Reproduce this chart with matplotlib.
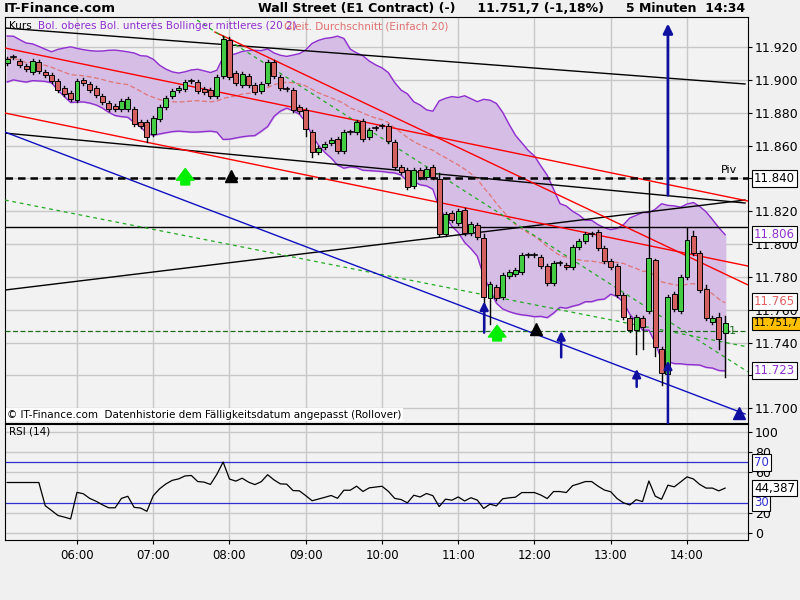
import numpy as np, pandas as pd
import matplotlib
matplotlib.use("Agg")
import matplotlib.pyplot as plt
from matplotlib.patches import Rectangle

# ---- candle data (open, close) in index points ----
opens = [11910.3,11913.9,11911.5,11908.4,11904.8,11910.9,11904.8,11903.0,11899.3,11895.0,11892.0,11887.7,11899.9,11897.5,11895.0,11890.2,11885.9,11884.1,11882.2,11882.2,
 11882.2,11874.3,11874.3,11867.0,11876.2,11883.5,11890.2,11893.8,11894.4,11899.3,11898.7,11894.4,11893.8,11890.2,11902.3,11924.3,11904.2,11896.9,11902.3,11896.9,
 11893.2,11898.1,11910.9,11901.7,11894.4,11893.8,11883.5,11881.6,11868.2,11856.1,11859.1,11861.5,11864.0,11856.7,11868.2,11868.2,11874.9,11865.2,11870.7,11871.9,
 11871.9,11862.1,11846.9,11845.1,11835.3,11845.1,11840.8,11846.9,11839.6,11806.1,11818.9,11812.8,11820.7,11806.7,11811.6,11803.7,11767.1,11773.8,11767.7,11780.5,
 11781.7,11783.0,11793.3,11793.3,11792.1,11786.6,11776.3,11788.5,11787.2,11786.0,11798.2,11801.9,11806.1,11807.3,11797.6,11789.7,11786.6,11768.9,11755.0,11747.7,
 11755.0,11759.2,11790.3,11736.1,11720.9,11769.6,11759.2,11779.9,11804.9,11794.5,11772.6,11752.5,11755.6,11745.6]
closes = [11912.7,11913.9,11909.0,11906.6,11911.5,11905.4,11903.0,11899.3,11893.8,11891.4,11888.3,11899.3,11898.1,11893.8,11890.8,11886.5,11882.2,11882.2,11887.1,11888.3,
 11873.1,11871.9,11865.2,11876.8,11883.5,11888.9,11893.2,11895.0,11898.7,11899.3,11893.2,11892.6,11890.2,11901.7,11924.9,11901.7,11898.1,11903.6,11896.9,11892.6,
 11897.5,11910.9,11902.3,11895.0,11894.4,11881.6,11881.0,11870.1,11856.1,11858.5,11860.9,11863.4,11856.7,11868.2,11868.2,11874.3,11864.0,11869.5,11870.7,11871.9,
 11862.8,11846.9,11843.9,11834.7,11845.1,11840.8,11845.7,11840.8,11806.1,11818.3,11814.6,11820.1,11806.7,11812.2,11804.3,11767.7,11775.7,11767.1,11781.1,11783.0,
 11784.2,11793.3,11793.3,11793.3,11786.6,11776.3,11788.5,11788.5,11786.0,11798.2,11801.9,11806.1,11806.1,11797.6,11789.7,11786.0,11768.9,11755.6,11747.7,11755.6,
 11749.5,11791.5,11737.3,11721.5,11767.7,11760.4,11779.9,11802.5,11794.5,11772.0,11755.0,11755.0,11742.2,11751.7]
wick_hi = {34: 11926.5, 35: 11926.0, 101: 11838.0, 102: 11791.0, 107: 11810.0, 108: 11808.0, 110: 11775.0, 112: 11758.0, 113: 11756.0, 75: 11806.0, 68: 11843.0}
wick_lo = {75: 11749.0, 76: 11751.0, 99: 11733.0, 100: 11736.0, 103: 11714.0, 104: 11714.0, 102: 11732.0, 113: 11719.0, 112: 11736.0, 22: 11862.0, 47: 11866.0, 48: 11853.0}

# band width estimate before 20 bars of history are available (upper, lower at chart start)
band_start = (11918.0, 11890.0)

# trend lines: (t0, p0, t1, p1)
black_lines = [(5.056,11931.6,14.761,11897.5),(5.056,11867.6,14.761,11825.0),(5.056,11772.0,14.761,11826.8),(5.056,11810.4,14.80,11810.4)]
red_lines = [(5.056,11919.4,14.80,11826.2),(5.056,11879.8,14.80,11786.6),(7.81,11929.1,14.80,11775.1)]
blue_line = (5.056,11868.2,14.761,11696.5)
green_lines = [(5.056,11826.8,14.80,11737.3),(7.574,11936.4,14.80,11722.1)]
pivot, s1 = 11840.0, 11747.0

blue_arrows = [(11.34,11765,11746),(12.35,11747,11731),(13.34,11724,11713),(13.75,11729,11690)]
green_arrows = [(7.42,11846,11836),(11.51,11750.5,11741)]
black_tri = [(8.02,11841.4),(12.02,11748)]
blue_tri = [(14.68,11697)]
hours = [6,7,8,9,10,11,12,13,14]

n = len(closes)
t = 14.5 - (n-1-np.arange(n))/12.0
o = np.array(opens); c = np.array(closes)
hi = np.maximum(o,c)+1.2; lo = np.minimum(o,c)-1.2
for k,v in wick_hi.items(): hi[k]=v
for k,v in wick_lo.items(): lo[k]=v

s = pd.Series(c)
mid = s.rolling(20, min_periods=1).mean()
sd = s.rolling(20, min_periods=2).std(ddof=0).bfill()
hw0 = (band_start[0]-band_start[1])/2
wgt = np.clip(np.arange(n)/20.0, 0, 1)
sd = np.maximum(sd, (1-wgt)*hw0/2)
up, dn = mid+2*sd, mid-2*sd
d = s.diff()
g = d.clip(lower=0).ewm(alpha=1/14, adjust=True).mean()
l = (-d.clip(upper=0)).ewm(alpha=1/14, adjust=True).mean()
rsi = (100-100/(1+g/l))
rsi = rsi.where(np.arange(n) >= 6).fillna(50)

fig = plt.figure(figsize=(8,6), dpi=100, facecolor='#f0f0f0')
ax = fig.add_axes([5/800, 177/600, 743/800, 406/600], facecolor='#f2f2f2')
ax2 = fig.add_axes([5/800, 60/600, 743/800, 116/600], facecolor='#f2f2f2')
xl = (5.056, 14.80)
for a in (ax, ax2):
    a.set_xlim(*xl)
    for h in hours: a.axvline(h, color='#c8c8c8', lw=1, zorder=0)
    a.yaxis.tick_right()
    a.tick_params(axis='y', labelsize=9, length=3, pad=2)
ax.set_ylim(11691.0, 11938.3)
yt = np.arange(11700, 11921, 20)
ax.set_yticks(yt); ax.set_yticklabels([f"{v/1000:.3f}" for v in yt])
for v in yt: ax.axhline(v, color='#c8c8c8', lw=1, zorder=0)
ax.set_xticks([])
ax.fill_between(t, dn, up, color='#d6bde6', zorder=1)
ax.plot(t, up, color='#8f2fd0', lw=1, zorder=2); ax.plot(t, dn, color='#8f2fd0', lw=1, zorder=2)
ax.plot(t, mid, color='#e07575', lw=0.9, ls=(0,(4,2)), zorder=2)
for ln in black_lines: ax.plot([ln[0],ln[2]],[ln[1],ln[3]], color='black', lw=1, zorder=3)
for ln in red_lines: ax.plot([ln[0],ln[2]],[ln[1],ln[3]], color='red', lw=1, zorder=3)
for ln in green_lines: ax.plot([ln[0],ln[2]],[ln[1],ln[3]], color='#22aa22', lw=0.9, ls=(0,(3,3)), zorder=3)
ax.plot([blue_line[0],blue_line[2]],[blue_line[1],blue_line[3]], color='#1010c0', lw=1, zorder=3)
ax.axhline(pivot, color='black', lw=1.8, ls=(0,(3,2)), zorder=3)
ax.axhline(s1, color='#207020', lw=0.9, ls=(0,(4,2)), zorder=3)
w = 0.065
for i in range(n):
    col = '#44cc44' if c[i] > o[i] else ('#d46060' if c[i] < o[i] else 'black')
    ax.plot([t[i],t[i]],[lo[i],hi[i]], color='black', lw=1, zorder=4)
    hgt = abs(c[i]-o[i])
    if hgt < 0.8:
        ax.plot([t[i]-w/2,t[i]+w/2],[c[i],c[i]], color='black', lw=1.2, zorder=5)
    else:
        ax.add_patch(Rectangle((t[i]-w/2, min(o[i],c[i])), w, hgt, facecolor=col, edgecolor='black', lw=0.7, zorder=5))
ax.annotate('', xy=(13.75,11936), xytext=(13.75,11828), arrowprops=dict(arrowstyle='-|>', color='#1010a0', lw=2, mutation_scale=14), zorder=6)
for tt,ph,pt in blue_arrows:
    ax.annotate('', xy=(tt,ph), xytext=(tt,pt), arrowprops=dict(arrowstyle='-|>', color='#1010a0', lw=1.8, mutation_scale=12, shrinkA=0, shrinkB=0), zorder=6, annotation_clip=False)
for tt,ph,pt in green_arrows:
    ax.annotate('', xy=(tt,ph), xytext=(tt,pt), arrowprops=dict(arrowstyle='simple,head_width=0.9,tail_width=0.45,head_length=0.6', color='#00ee00', mutation_scale=14, shrinkA=0, shrinkB=0), zorder=6)
for tt,p in black_tri: ax.plot(tt,p,marker='^',color='black',ms=9,zorder=6)
for tt,p in blue_tri: ax.plot(tt,p,marker='^',color='#1010a0',ms=9,zorder=6)

ax.text(0.005,0.99,'Kurs',transform=ax.transAxes,fontsize=7.5,va='top',color='black')
ax.text(0.045,0.99,'Bol. oberes Bol. unteres Bollinger mittleres (20 2)',transform=ax.transAxes,fontsize=7.5,va='top',color='#8f2fd0')
ax.text(0.375,0.99,'Gleit. Durchschnitt (Einfach 20)',transform=ax.transAxes,fontsize=7.5,va='top',color='#e07070')
ax.text(0.003,0.008,'© IT-Finance.com  Datenhistorie dem Fälligkeitsdatum angepasst (Rollover)',transform=ax.transAxes,fontsize=7.5,
        va='bottom',bbox=dict(facecolor='white',edgecolor='none',pad=1))
ax.text(0.985,pivot+2,'Piv',transform=ax.get_yaxis_transform(),fontsize=8,ha='right',va='bottom')
ax.text(0.985,s1,'S1',transform=ax.get_yaxis_transform(),fontsize=8,ha='right',va='center',color='#207020')
def box(a,y,txt,fc='white',tc='black',ec='black',fs=8.5):
    a.text(1.008,y,txt,transform=a.get_yaxis_transform(),fontsize=fs,va='center',ha='left',color=tc,
           bbox=dict(facecolor=fc,edgecolor=ec,pad=1.3,lw=0.8),zorder=10,clip_on=False)
box(ax,11840,'11.840')
box(ax,11806,'11.806',tc='#8f2fd0')
box(ax,11765,'11.765',tc='#e06060')
box(ax,11751.7,'11.751,7',fc='#ffc000',fs=7.3)
box(ax,11723,'11.723',tc='#8f2fd0')

ax2.set_ylim(-6.9,107.9)
ax2.set_yticks([0,20,60,80,100]); ax2.set_yticklabels(['0','20','60','80','100'])
ax2.axhline(70,color='#3030d0',lw=0.9); ax2.axhline(30,color='#3030d0',lw=0.9)
for v in [0,20,60,80,100]: ax2.axhline(v,color='#c8c8c8',lw=1,zorder=0)
ax2.plot(t, rsi, color='black', lw=0.9)
ax2.text(0.005,0.98,'RSI (14)',transform=ax2.transAxes,fontsize=7.5,va='top')
box(ax2,70,'70',tc='#3030d0'); box(ax2,30,'30',tc='#3030d0'); box(ax2,44.387,'44,387')
ax2.set_xticks(hours); ax2.set_xticklabels([f"{h:02d}:00" for h in hours], fontsize=8.5)
ax2.tick_params(axis='x', length=3)

fig.text(0.005,0.997,'IT-Finance.com',fontsize=9.5,fontweight='bold',va='top')
fig.text(0.322,0.997,'Wall Street (E1 Contract) (-)     11.751,7 (-1,18%)     5 Minuten  14:34',fontsize=9,fontweight='bold',va='top')
fig.savefig('out.png', dpi=100, facecolor=fig.get_facecolor())
